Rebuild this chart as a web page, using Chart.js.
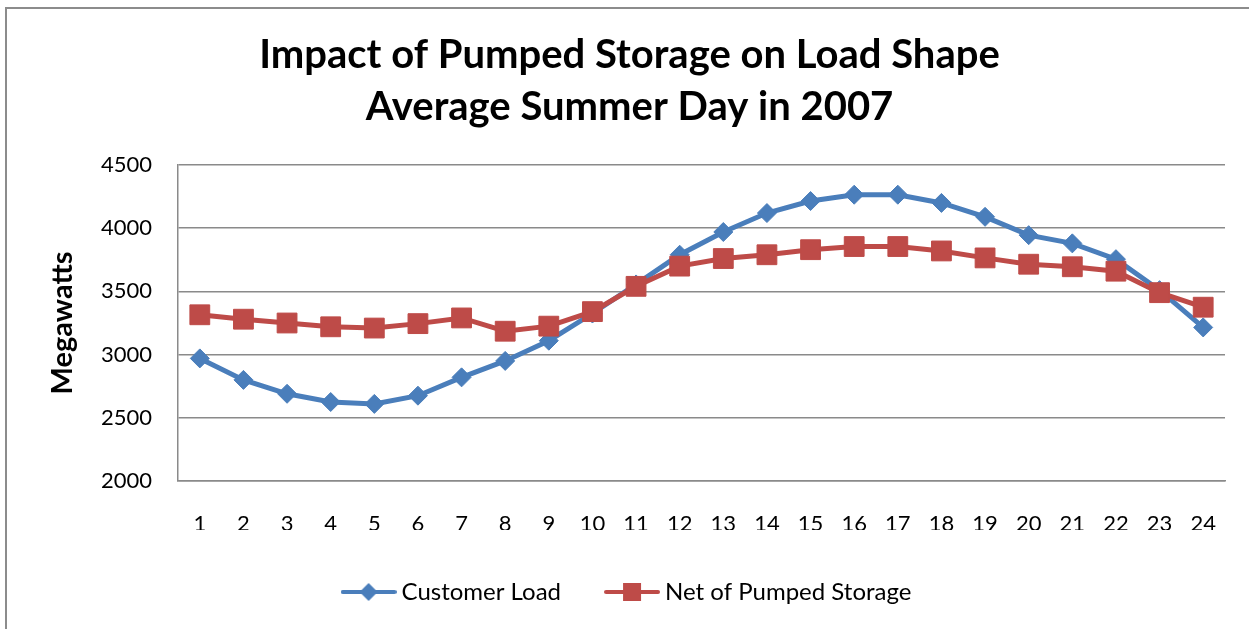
<!DOCTYPE html>
<html>
<head>
<meta charset="utf-8">
<script src="https://cdn.jsdelivr.net/npm/chart.js@4"></script>
<style>
  html, body { margin:0; padding:0; background:#fff; }
  #wrap { position:relative; width:1249px; height:629px; overflow:hidden; }
  #frame { position:absolute; left:5px; top:7px; width:1300px; height:700px;
           border-left:2px solid #8c8c8c; border-top:2px solid #8c8c8c; }
  #c { position:absolute; left:0; top:0; }
</style>
</head>
<body>
<div id="wrap">
  <div id="frame"></div>
  <canvas id="c" width="1249" height="629"></canvas>
</div>
<script>
const hours = ['1','2','3','4','5','6','7','8','9','10','11','12','13','14','15','16','17','18','19','20','21','22','23','24'];
const customerLoad = [2970, 2800, 2690, 2625, 2610, 2675, 2820, 2950, 3110, 3325, 3555, 3790,
                      3970, 4120, 4215, 4265, 4265, 4200, 4090, 3945, 3880, 3755, 3510, 3215];
const netPumped    = [3315, 3280, 3250, 3220, 3210, 3245, 3290, 3185, 3225, 3340, 3540, 3700,
                      3760, 3790, 3830, 3855, 3855, 3820, 3765, 3715, 3695, 3660, 3490, 3375];
const titleLines = ['Impact of Pumped Storage on Load Shape', 'Average Summer Day in 2007'];
const yTitle = 'Megawatts';

const FONT = "Lato, 'Open Sans', sans-serif";
const BLUE = '#4a7ebb';
const RED = '#be4b48';
const GRID = '#8a8a8a';

// legend swatch: short line with the marker in the middle
function swatch(color, kind){
  const cv = document.createElement('canvas');
  cv.width = 56; cv.height = 22;
  const g = cv.getContext('2d');
  g.strokeStyle = color; g.lineWidth = 4; g.lineCap = 'round';
  g.beginPath(); g.moveTo(2, 11); g.lineTo(54, 11); g.stroke();
  g.fillStyle = color;
  if (kind === 'diamond') {
    g.beginPath(); g.moveTo(28, 2); g.lineTo(37, 11); g.lineTo(28, 20); g.lineTo(19, 11); g.closePath(); g.fill();
  } else {
    g.fillRect(19, 2, 18, 18);
  }
  return cv;
}
const swatches = [swatch(BLUE, 'diamond'), swatch(RED, 'square')];

new Chart(document.getElementById('c'), {
  type: 'line',
  data: {
    labels: hours,
    datasets: [
      { label:'Customer Load', data:customerLoad, borderColor:BLUE, backgroundColor:BLUE,
        borderWidth:5, pointStyle:'rectRot', pointRadius:9.5, pointBorderWidth:1, order:2 },
      { label:'Net of Pumped Storage', data:netPumped, borderColor:RED, backgroundColor:RED,
        borderWidth:5, pointStyle:'rect', pointRadius:14, pointBorderWidth:1, order:1 }
    ]
  },
  options: {
    responsive:false,
    animation:false,
    events:[],
    layout:{ padding:{ left:34, right:24, top:0, bottom:15 } },
    scales: {
      x: {
        offset:true,
        afterFit: s => { s.height = 49; },
        grid:{ display:false, drawTicks:false },
        border:{ display:true, color:GRID, width:1.5 },
        ticks:{ color:'#000', font:{ family:FONT, size:22 }, padding:30, maxRotation:0, autoSkip:false }
      },
      y: {
        min:2000, max:4500,
        afterFit: s => { s.width = 144; },
        grid:{ color:GRID, lineWidth:1.5, drawTicks:false },
        border:{ display:true, color:GRID, width:1.5 },
        ticks:{ stepSize:500, color:'#000', font:{ family:FONT, size:22 }, padding:26, callback: v => String(v) },
        title:{ display:true, text:yTitle, color:'#000', font:{ family:FONT, size:29, weight:'bold' }, padding:{ top:11, bottom:0 } }
      }
    },
    plugins: {
      title: {
        display:true, text:titleLines, color:'#000',
        font:{ family:FONT, size:40, weight:'bold', lineHeight:1.3 },
        padding:{ top:29, bottom:32 }
      },
      legend: {
        position:'bottom',
        labels: {
          color:'#000', font:{ family:FONT, size:24 }, padding:50,
          usePointStyle:true, pointStyleWidth:42,
          generateLabels: chart => chart.data.datasets.map((d, i) => ({
            text:d.label, fillStyle:d.borderColor, strokeStyle:d.borderColor, lineWidth:0,
            pointStyle:swatches[i], datasetIndex:i, hidden:false, fontColor:'#000'
          }))
        }
      },
      tooltip:{ enabled:false }
    }
  }
});
</script>
</body>
</html>
